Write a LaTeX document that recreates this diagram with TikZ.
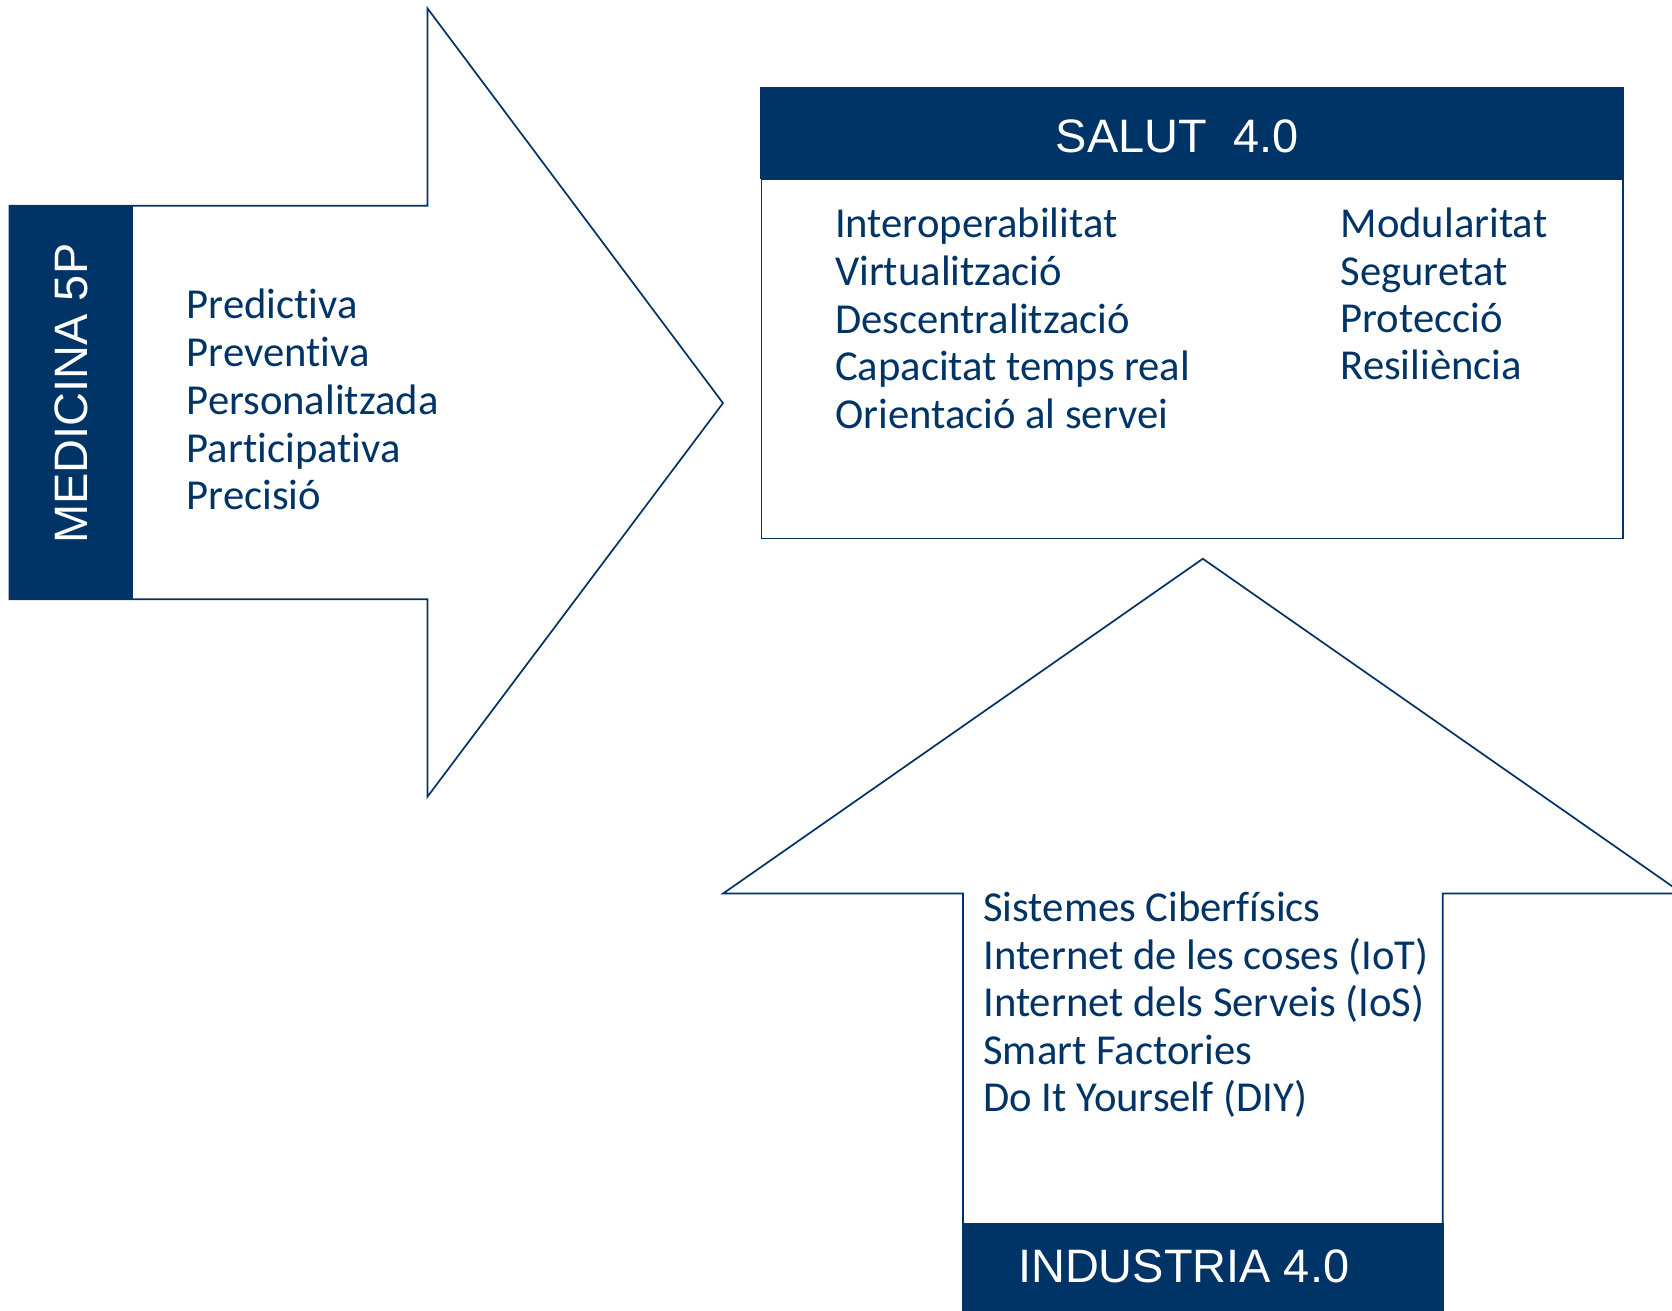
\documentclass[tikz,border=0pt]{standalone}
\usepackage{fontspec}
\setmainfont[Ligatures=NoCommon]{Carlito}
\newfontfamily\arialf{Liberation Sans}
\definecolor{navy}{RGB}{0,51,102}
\begin{document}
\begin{tikzpicture}[x=1pt,y=-1pt,
  outl/.style={draw=navy,line width=1.6pt,line join=miter,fill=white},
  item/.style={anchor=base west,inner sep=0pt,text=navy,font=\fontsize{40}{45}\selectfont},
  titletext/.style={text=white,inner sep=0pt,font=\arialf\fontsize{44}{50}\selectfont}]
\useasboundingbox (0,0) rectangle (1568,1229);
\fill[white] (0,0) rectangle (1568,1229);
\clip (0,0) rectangle (1568,1229);
% right arrow (Medicina 5P)
\draw[outl] (9,193) -- (401,193) -- (401,8) -- (678,378) -- (401,747) -- (401,562) -- (9,562) -- cycle;
\fill[navy] (9,193) rectangle (125,562);
\node[titletext,rotate=90] (med) at (67,369) {MEDICINA 5P};
\node[item] (m1) at (175,299) {Predictiva};
\node[item] (m2) at (175,344) {Preventiva};
\node[item] (m3) at (175,389) {Personalitzada};
\node[item] (m4) at (175,434) {Participativa};
\node[item] (m5) at (175,478) {Precisió};
% Salut 4.0 box
\draw[navy,line width=1.6pt] (714,168) rectangle (1522,505);
\fill[navy] (713,82) rectangle (1523,168);
\node[titletext] (salut) at (1104,128) {SALUT\ \ 4.0};
\node[item] (s1) at (783,223) {Interoperabilitat};
\node[item] (s2) at (783,268) {Virtualització};
\node[item] (s3) at (783,313) {Descentralització};
\node[item] (s4) at (783,357) {Capacitat temps real};
\node[item] (s5) at (783,402) {Orientació al servei};
\node[item] (r1) at (1257,223) {Modularitat};
\node[item] (r2) at (1257,268) {Seguretat};
\node[item] (r3) at (1257,312) {Protecció};
\node[item] (r4) at (1257,356) {Resiliència};
% up arrow (Industria 4.0)
\draw[outl] (903,1240) -- (903,838) -- (678,838) -- (1128,524) -- (1578,838) -- (1353,838) -- (1353,1240);
\fill[navy] (902,1147) rectangle (1354,1240);
\node[titletext] (ind) at (1110,1188) {INDUSTRIA 4.0};
\node[item] (i1) at (922,864) {Sistemes Ciberfísics};
\node[item] (i2) at (922,909) {Internet de les coses (IoT)};
\node[item] (i3) at (922,953) {Internet dels Serveis (IoS)};
\node[item] (i4) at (922,998) {Smart Factories};
\node[item] (i5) at (922,1042) {Do It Yourself (DIY)};
\end{tikzpicture}
\end{document}
